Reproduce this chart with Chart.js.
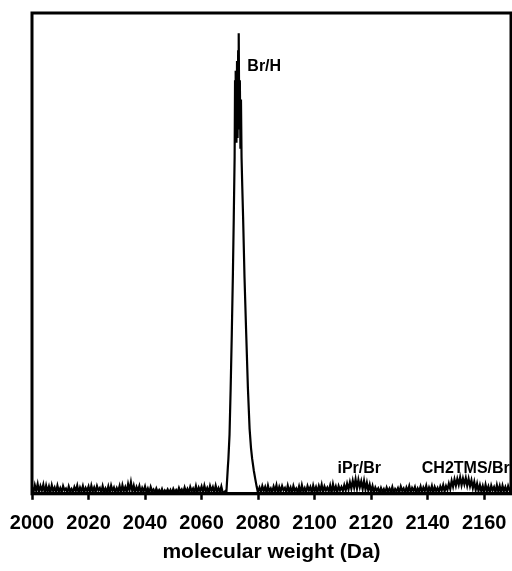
<!DOCTYPE html>
<html>
<head>
<meta charset="utf-8">
<script src="https://cdn.jsdelivr.net/npm/chart.js@4"></script>
<style>
  html, body { margin: 0; padding: 0; background: #fff; }
  #wrap { width: 512px; height: 571px; }
</style>
</head>
<body>
<div id="wrap"><canvas id="spectrum"></canvas></div>
<script>
// mass (Da) and relative intensity
const mass = [
  2000, 2000.5, 2001, 2001.5, 2002, 2002.5, 2003, 2003.5, 2004, 2004.5,
  2005, 2005.5, 2006, 2006.5, 2007, 2007.5, 2008, 2008.5, 2009, 2009.5,
  2010, 2010.5, 2011, 2011.5, 2012, 2012.5, 2013, 2013.5, 2014, 2014.5,
  2015, 2015.5, 2016, 2016.5, 2017, 2017.5, 2018, 2018.5, 2019, 2019.5,
  2020, 2020.5, 2021, 2021.5, 2022, 2022.5, 2023, 2023.5, 2024, 2024.5,
  2025, 2025.5, 2026, 2026.5, 2027, 2027.5, 2028, 2028.5, 2029, 2029.5,
  2030, 2030.5, 2031, 2031.5, 2032, 2032.5, 2033, 2033.5, 2034, 2034.5,
  2035, 2035.5, 2036, 2036.5, 2037, 2037.5, 2038, 2038.5, 2039, 2039.5,
  2040, 2040.5, 2041, 2041.5, 2042, 2042.5, 2043, 2043.5, 2044, 2044.5,
  2045, 2045.5, 2046, 2046.5, 2047, 2047.5, 2048, 2048.5, 2049, 2049.5,
  2050, 2050.5, 2051, 2051.5, 2052, 2052.5, 2053, 2053.5, 2054, 2054.5,
  2055, 2055.5, 2056, 2056.5, 2057, 2057.5, 2058, 2058.5, 2059, 2059.5,
  2060, 2060.5, 2061, 2061.5, 2062, 2062.5, 2063, 2063.5, 2064, 2064.5,
  2065, 2065.5, 2066, 2066.5, 2067, 2067.5,
  2068.0, 2068.5, 2068.8, 2069.3, 2069.5, 2069.9, 2070.3, 2070.7, 2071.1, 2071.4,
  2071.7, 2071.85, 2072.0, 2072.15, 2072.35, 2072.55, 2072.75, 2072.95, 2073.15, 2073.35,
  2073.55, 2073.75, 2073.95, 2074.15, 2074.4, 2074.7, 2075.2, 2075.8, 2076.4, 2077.0,
  2077.5, 2077.9, 2078.5, 2079.0, 2079.5, 2079.9,
  2080.5, 2081, 2081.5, 2082, 2082.5, 2083, 2083.5, 2084, 2084.5,
  2085, 2085.5, 2086, 2086.5, 2087, 2087.5, 2088, 2088.5, 2089, 2089.5,
  2090, 2090.5, 2091, 2091.5, 2092, 2092.5, 2093, 2093.5, 2094, 2094.5,
  2095, 2095.5, 2096, 2096.5, 2097, 2097.5, 2098, 2098.5, 2099, 2099.5,
  2100, 2100.5, 2101, 2101.5, 2102, 2102.5, 2103, 2103.5, 2104, 2104.5,
  2105, 2105.5, 2106, 2106.5, 2107, 2107.5, 2108, 2108.5, 2109, 2109.5,
  2110, 2110.5, 2111, 2111.5, 2112, 2112.5, 2113, 2113.5, 2114, 2114.5,
  2115, 2115.5, 2116, 2116.5, 2117, 2117.5, 2118, 2118.5, 2119, 2119.5,
  2120, 2120.5, 2121, 2121.5, 2122, 2122.5, 2123, 2123.5, 2124, 2124.5,
  2125, 2125.5, 2126, 2126.5, 2127, 2127.5, 2128, 2128.5, 2129, 2129.5,
  2130, 2130.5, 2131, 2131.5, 2132, 2132.5, 2133, 2133.5, 2134, 2134.5,
  2135, 2135.5, 2136, 2136.5, 2137, 2137.5, 2138, 2138.5, 2139, 2139.5,
  2140, 2140.5, 2141, 2141.5, 2142, 2142.5, 2143, 2143.5, 2144, 2144.5,
  2145, 2145.5, 2146, 2146.5, 2147, 2147.5, 2148, 2148.5, 2149, 2149.5,
  2150, 2150.5, 2151, 2151.5, 2152, 2152.5, 2153, 2153.5, 2154, 2154.5,
  2155, 2155.5, 2156, 2156.5, 2157, 2157.5, 2158, 2158.5, 2159, 2159.5,
  2160, 2160.5, 2161, 2161.5, 2162, 2162.5, 2163, 2163.5, 2164, 2164.5,
  2165, 2165.5, 2166, 2166.5, 2167, 2167.5, 2168, 2168.5, 2169, 2169.5
];
const intensity = [
  1.4, 0.2, 1.8, 0.6, 2.0, 0.3, 1.6, 0.7, 1.9, 0.2,
  1.7, 0.4, 1.5, 0.2, 1.8, 0.6, 1.3, 0.3, 1.7, 0.5,
  1.2, 0.3, 1.6, 0.7, 1.1, 0.2, 1.5, 0.5, 1.0, 0.3,
  1.4, 0.6, 1.7, 0.2, 1.3, 0.5, 1.6, 0.3, 1.2, 0.6,
  1.5, 0.2, 1.7, 0.5, 1.3, 0.3, 1.6, 0.7, 1.2, 0.2,
  1.6, 0.4, 1.1, 0.3, 1.5, 0.2, 1.7, 0.6, 1.3, 0.3,
  1.2, 0.5, 1.6, 0.2, 1.8, 0.6, 1.4, 0.3, 2.0, 0.7,
  2.4, 0.5, 1.7, 0.3, 1.4, 0.6, 1.6, 0.2, 1.2, 0.5,
  1.5, 0.3, 1.1, 0.2, 1.4, 0.5, 0.9, 0.2, 1.1, 0.3,
  0.8, 0.2, 1.0, 0.1, 0.7, 0.3, 0.9, 0.2, 0.8, 0.1,
  1.0, 0.3, 0.8, 0.2, 1.2, 0.4, 0.9, 0.2, 1.3, 0.3,
  1.0, 0.2, 1.4, 0.5, 1.1, 0.3, 1.6, 0.2, 1.3, 0.6,
  1.5, 0.3, 1.7, 0.5, 1.2, 0.2, 1.6, 0.6, 1.4, 0.3,
  1.7, 0.5, 1.2, 0.3, 1.5, 0.2,
  0.3, 0.6, 0.4, 5.5, 7.3, 12.3, 22, 33.3, 46, 57.5,
  70, 86, 74, 88, 73, 90, 74, 92, 95.8, 76,
  86, 72, 82, 70, 64, 57.5, 45, 33.3, 22, 13.5,
  9.5, 7.3, 4.8, 3.1, 1.5, 0.4,
  1.3, 0.3, 1.6, 0.6, 1.4, 0.2, 1.7, 0.5, 1.1,
  0.3, 1.5, 0.6, 1.8, 0.2, 1.4, 0.5, 1.6, 0.7, 1.2,
  0.3, 1.7, 0.5, 1.3, 0.2, 1.6, 0.6, 1.1, 0.3, 1.5,
  0.2, 1.8, 0.5, 1.2, 0.3, 1.6, 0.7, 1.4, 0.2, 1.7,
  0.5, 1.4, 0.3, 1.6, 0.6, 1.9, 0.3, 1.5, 0.7, 1.3,
  0.5, 1.7, 0.2, 2.0, 0.6, 1.5, 0.3, 1.6, 0.7, 1.4,
  0.6, 1.8, 0.7, 2.1, 0.9, 2.4, 1.1, 2.7, 1.3, 3.0,
  1.1, 2.9, 1.4, 2.6, 1.0, 2.7, 0.9, 2.3, 0.7, 1.9,
  0.4, 1.6, 0.3, 1.3, 0.6, 1.1, 0.2, 1.2, 0.4, 1.0,
  0.2, 1.3, 0.5, 1.1, 0.3, 1.4, 0.2, 1.0, 0.5, 1.2,
  0.3, 1.5, 0.6, 1.1, 0.2, 1.3, 0.5, 1.6, 0.3, 1.2,
  0.6, 1.4, 0.2, 1.1, 0.5, 1.5, 0.3, 1.3, 0.6, 1.7,
  0.3, 1.3, 0.5, 1.6, 0.2, 1.4, 0.6, 1.2, 0.3, 1.5,
  0.7, 1.8, 0.5, 1.6, 0.8, 2.1, 1.0, 2.7, 1.5, 3.0,
  1.7, 3.1, 1.9, 3.4, 1.8, 3.2, 2.0, 3.3, 1.7, 3.1,
  1.6, 2.8, 1.2, 2.5, 0.8, 2.1, 0.6, 1.8, 0.5, 1.6,
  0.3, 1.9, 0.6, 1.5, 0.2, 1.7, 0.7, 1.4, 0.3, 1.8,
  0.5, 1.6, 0.2, 1.7, 0.6, 1.4, 0.3, 1.6, 0.7, 1.3
];

// peak labels and where they sit (mass, intensity)
const peakNames = ["Br/H", "iPr/Br", "CH2TMS/Br"];
const peakMass = [2076.2, 2115.8, 2153.5];
const peakLevel = [88.9, 5.2, 5.2];

const points = mass.map((m, i) => ({ x: m, y: intensity[i] }));

const frame = {
  id: "frame",
  afterDatasetsDraw(chart) {
    const { ctx, chartArea: a, scales } = chart;
    ctx.save();
    ctx.strokeStyle = "#000";
    ctx.lineWidth = 3;
    ctx.strokeRect(a.left, a.top, a.right - a.left, a.bottom - a.top);

    ctx.fillStyle = "#000";
    ctx.font = "bold 16px 'Liberation Sans', Arial, sans-serif";
    ctx.textBaseline = "middle";
    peakNames.forEach((name, i) => {
      ctx.textAlign = i === 0 ? "left" : "center";
      ctx.fillText(name, scales.x.getPixelForValue(peakMass[i]), scales.y.getPixelForValue(peakLevel[i]));
    });
    ctx.restore();
  }
};

new Chart(document.getElementById("spectrum"), {
  type: "line",
  data: {
    datasets: [
      {
        data: points,
        borderColor: "#000",
        borderWidth: 2.2,
        pointRadius: 0,
        tension: 0,
        fill: false,
      },
    ],
  },
  options: {
    responsive: true,
    maintainAspectRatio: false,
    animation: false,
    layout: {
      padding: { left: 32, right: 1, top: 13, bottom: 0 },
    },
    plugins: {
      legend: { display: false },
      tooltip: { enabled: false },
    },
    scales: {
      x: {
        type: "linear",
        min: 2000,
        max: 2169.5,
        border: { display: true, color: "#000", width: 3 },
        grid: {
          drawOnChartArea: false,
          drawTicks: true,
          tickLength: 6,
          tickWidth: 2.5,
          tickColor: "#000",
        },
        ticks: {
          stepSize: 20,
          includeBounds: false,
          maxRotation: 0,
          padding: 3,
          color: "#000",
          callback: (v) => String(v),
          font: { family: "'Liberation Sans', Arial, sans-serif", size: 20, weight: "bold", lineHeight: 2.1 },
        },
        title: {
          display: true,
          text: "molecular weight (Da)",
          color: "#000",
          padding: { top: -8, bottom: 6 },
          font: { family: "'Liberation Sans', Arial, sans-serif", size: 21, weight: "bold" },
        },
      },
      y: {
        display: false,
        min: 0,
        max: 100,
      },
    },
  },
  plugins: [frame],
});
</script>
</body>
</html>
